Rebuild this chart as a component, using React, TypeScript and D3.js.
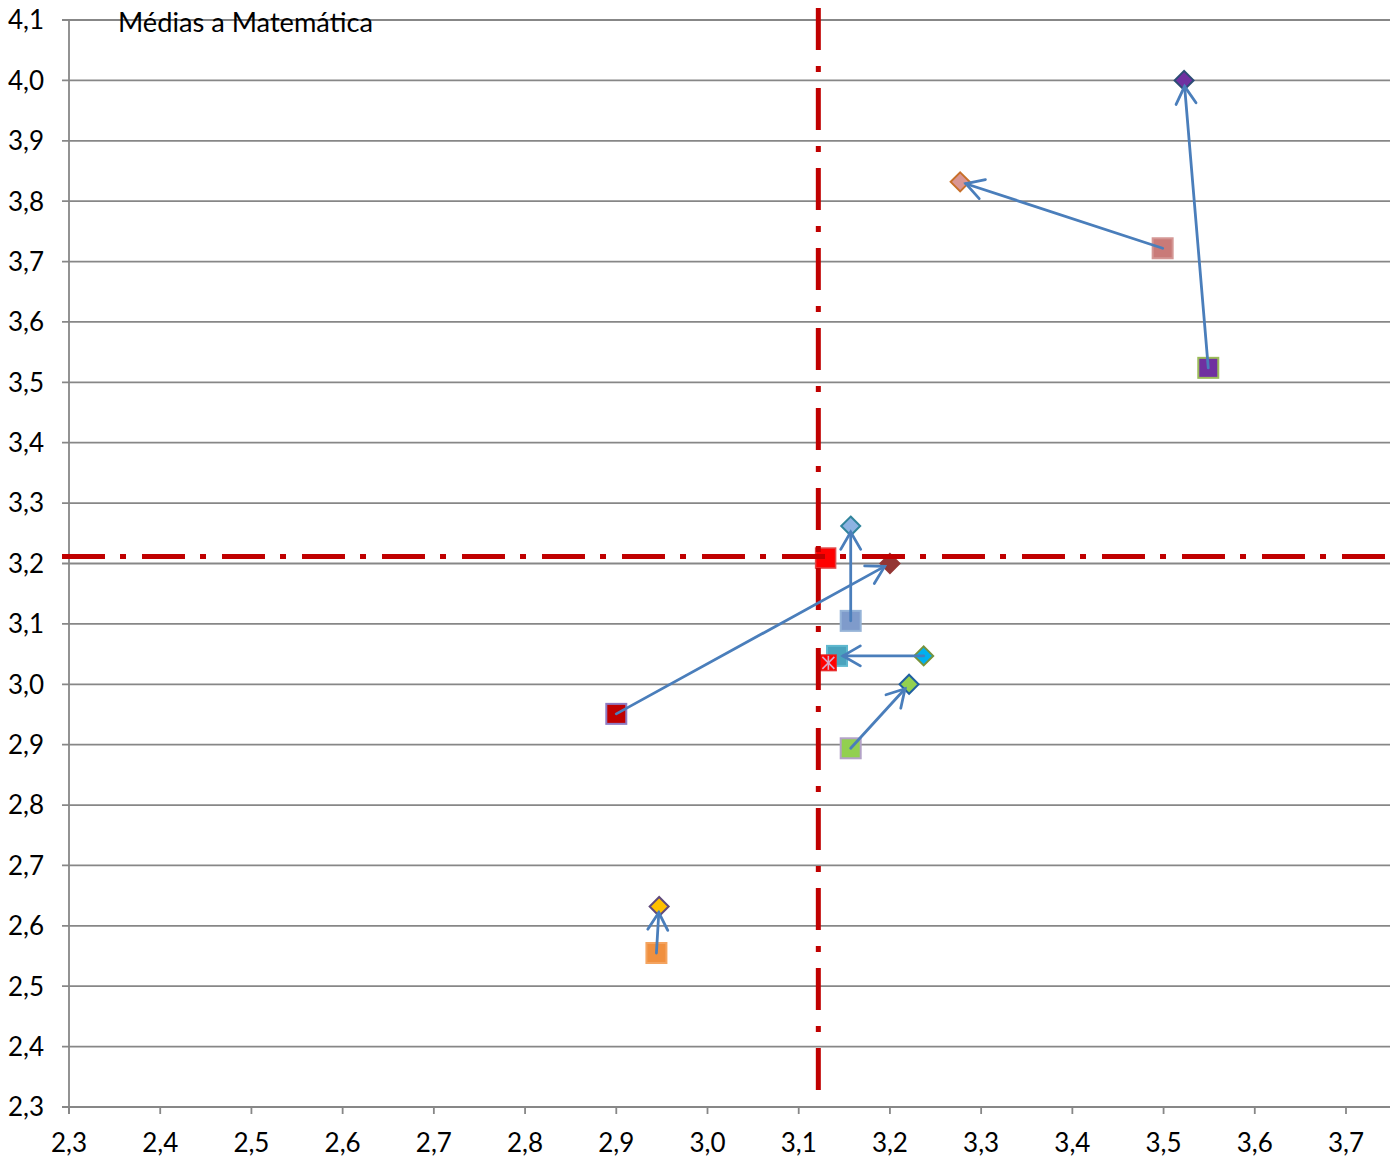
import React from "react";
import * as d3 from "d3";

// ---- data ----
const X_TICKS = [2.3, 2.4, 2.5, 2.6, 2.7, 2.8, 2.9, 3.0, 3.1, 3.2, 3.3, 3.4, 3.5, 3.6, 3.7];
const Y_TICKS = [2.3, 2.4, 2.5, 2.6, 2.7, 2.8, 2.9, 3.0, 3.1, 3.2, 3.3, 3.4, 3.5, 3.6, 3.7, 3.8, 3.9, 4.0, 4.1];

// start points (squares)
const START_X = [3.549, 3.499, 3.157, 2.9, 3.142, 3.157, 2.944];
const START_Y = [3.524, 3.722, 3.105, 2.951, 3.047, 2.894, 2.555];
// end points (diamonds)
const END_X = [3.5225, 3.277, 3.157, 3.2, 3.237, 3.221, 2.947];
const END_Y = [4.0, 3.832, 3.262, 3.2, 3.047, 3.0, 2.632];
// 1: arrow from square to diamond, -1: arrow from diamond to square
const ARROW_DIR = [1, 1, 1, 1, -1, 1, 1];

const SQUARE_FILL = ["#7030a0", "#c97a78", "#7f9bcb", "#c00000", "#4aa3bd", "#92d050", "#f0903f"];
const SQUARE_STROKE = ["#9bbb59", "#d49694", "#95b3d7", "#8e7cc3", "#5fb8cf", "#b3a2c7", "#f4a460"];
const DIAMOND_FILL = ["#7030a0", "#d99694", "#8db3e2", "#943634", "#00b0f0", "#92d050", "#ffc000"];
const DIAMOND_STROKE = ["#2c4d75", "#c8702a", "#31859c", "#943634", "#77933c", "#1f5fa0", "#604a7b"];

// overall averages
const AVG_SQUARE = { x: 3.1295, y: 3.209 };
const AVG_STAR = { x: 3.1325, y: 3.0355 };

// reference lines
const REF_X = 3.1215;
const REF_Y = 3.2115;

const TITLE = "Médias a Matemática";

// ---- layout ----
const W = 1397;
const H = 1167;
const LEFT = 69;
const RIGHT = 1390;
const TOP = 20;
const BOTTOM = 1107;

const fmt = (v: number) => d3.format(".1f")(v).replace(".", ",");

export default function App() {
  const x = d3.scaleLinear().domain([2.3, 3.7]).range([LEFT, 1346]);
  const y = d3.scaleLinear().domain([2.3, 4.1]).range([BOTTOM, TOP]);

  const font = "Lato, 'Open Sans', sans-serif";
  const grid = "#878787";
  const arrowColor = "#4a7ebb";

  const arrows = START_X.map((_, i) => {
    let x0 = x(START_X[i]), y0 = y(START_Y[i]);
    let x1 = x(END_X[i]), y1 = y(END_Y[i]);
    if (ARROW_DIR[i] < 0) {
      [x0, y0, x1, y1] = [x1, y1, x0, y0];
    }
    const dx = x1 - x0, dy = y1 - y0;
    const len = Math.hypot(dx, dy);
    const ux = dx / len, uy = dy / len;
    const tx = x1 - ux * 6, ty = y1 - uy * 6;
    const ang = Math.atan2(-uy, -ux);
    const a = (30 * Math.PI) / 180;
    const L = 20;
    const b1x = tx + L * Math.cos(ang + a), b1y = ty + L * Math.sin(ang + a);
    const b2x = tx + L * Math.cos(ang - a), b2y = ty + L * Math.sin(ang - a);
    return { x0, y0, tx, ty, b1x, b1y, b2x, b2y };
  });

  const sq = 20;
  const dr = 9.5;
  const starS = 16;
  const sx = x(AVG_STAR.x), sy = y(AVG_STAR.y);

  return (
    <svg width={W} height={H} style={{ display: "block", position: "absolute", left: 0, top: 0 }}>
      <rect width={W} height={H} fill="#fff" />
      {/* gridlines */}
      {Y_TICKS.map((t) => (
        <line key={"g" + t} x1={LEFT - 7} x2={RIGHT} y1={y(t)} y2={y(t)} stroke={grid} strokeWidth={1.8} />
      ))}
      {/* y axis */}
      <line x1={LEFT} x2={LEFT} y1={TOP} y2={BOTTOM + 7} stroke={grid} strokeWidth={1.8} />
      {/* x ticks */}
      {X_TICKS.map((t) => (
        <line key={"xt" + t} x1={x(t)} x2={x(t)} y1={BOTTOM} y2={BOTTOM + 7} stroke={grid} strokeWidth={1.8} />
      ))}
      {/* tick labels */}
      {Y_TICKS.map((t) => (
        <text key={"yl" + t} x={44} y={y(t)} dy="0.36em" textAnchor="end" fontFamily={font} fontSize={26} fill="#000">
          {fmt(t)}
        </text>
      ))}
      {X_TICKS.map((t) => (
        <text key={"xl" + t} x={x(t)} y={1152} textAnchor="middle" fontFamily={font} fontSize={26} fill="#000">
          {fmt(t)}
        </text>
      ))}
      {/* title */}
      <text x={118} y={32} fontFamily={font} fontSize={26} fill="#000" textLength={255} lengthAdjust="spacingAndGlyphs">
        {TITLE}
      </text>

      {/* squares */}
      {START_X.map((v, i) => (
        <rect
          key={"s" + i}
          x={x(v) - sq / 2}
          y={y(START_Y[i]) - sq / 2}
          width={sq}
          height={sq}
          fill={SQUARE_FILL[i]}
          stroke={SQUARE_STROKE[i]}
          strokeWidth={2}
        />
      ))}
      {/* diamonds */}
      {END_X.map((v, i) => {
        const cx = x(v), cy = y(END_Y[i]);
        return (
          <path
            key={"d" + i}
            d={`M${cx},${cy - dr}L${cx + dr},${cy}L${cx},${cy + dr}L${cx - dr},${cy}Z`}
            fill={DIAMOND_FILL[i]}
            stroke={DIAMOND_STROKE[i]}
            strokeWidth={2}
          />
        );
      })}
      {/* average square */}
      <rect
        x={x(AVG_SQUARE.x) - sq / 2}
        y={y(AVG_SQUARE.y) - sq / 2}
        width={sq}
        height={sq}
        fill="#ff0000"
        stroke="#e04848"
        strokeWidth={1.5}
      />
      {/* average star marker */}
      <g>
        <rect x={sx - starS / 2} y={sy - starS / 2} width={starS} height={starS} fill="#ff0000" stroke="#e03030" strokeWidth={1} />
        <line x1={sx - 6} y1={sy - 6} x2={sx + 6} y2={sy + 6} stroke="#d8a8c8" strokeWidth={1.6} />
        <line x1={sx - 6} y1={sy + 6} x2={sx + 6} y2={sy - 6} stroke="#d8a8c8" strokeWidth={1.6} />
        <line x1={sx} y1={sy - 7} x2={sx} y2={sy + 7} stroke="#d8a8c8" strokeWidth={1.6} />
      </g>

      {/* reference lines */}
      <line x1={LEFT - 7} x2={1385} y1={y(REF_Y)} y2={y(REF_Y)} stroke="#c00000" strokeWidth={5} strokeDasharray="43 15 6 16" />
      <line x1={x(REF_X)} x2={x(REF_X)} y1={8} y2={1090} stroke="#c00000" strokeWidth={5} strokeDasharray="42 16 6 16" />

      {/* arrows */}
      {arrows.map((a, i) => (
        <g key={"a" + i} stroke={arrowColor} strokeWidth={2.8} fill="none" strokeLinecap="round">
          <line x1={a.x0} y1={a.y0} x2={a.tx} y2={a.ty} />
          <polyline points={`${a.b1x},${a.b1y} ${a.tx},${a.ty} ${a.b2x},${a.b2y}`} />
        </g>
      ))}
    </svg>
  );
}
